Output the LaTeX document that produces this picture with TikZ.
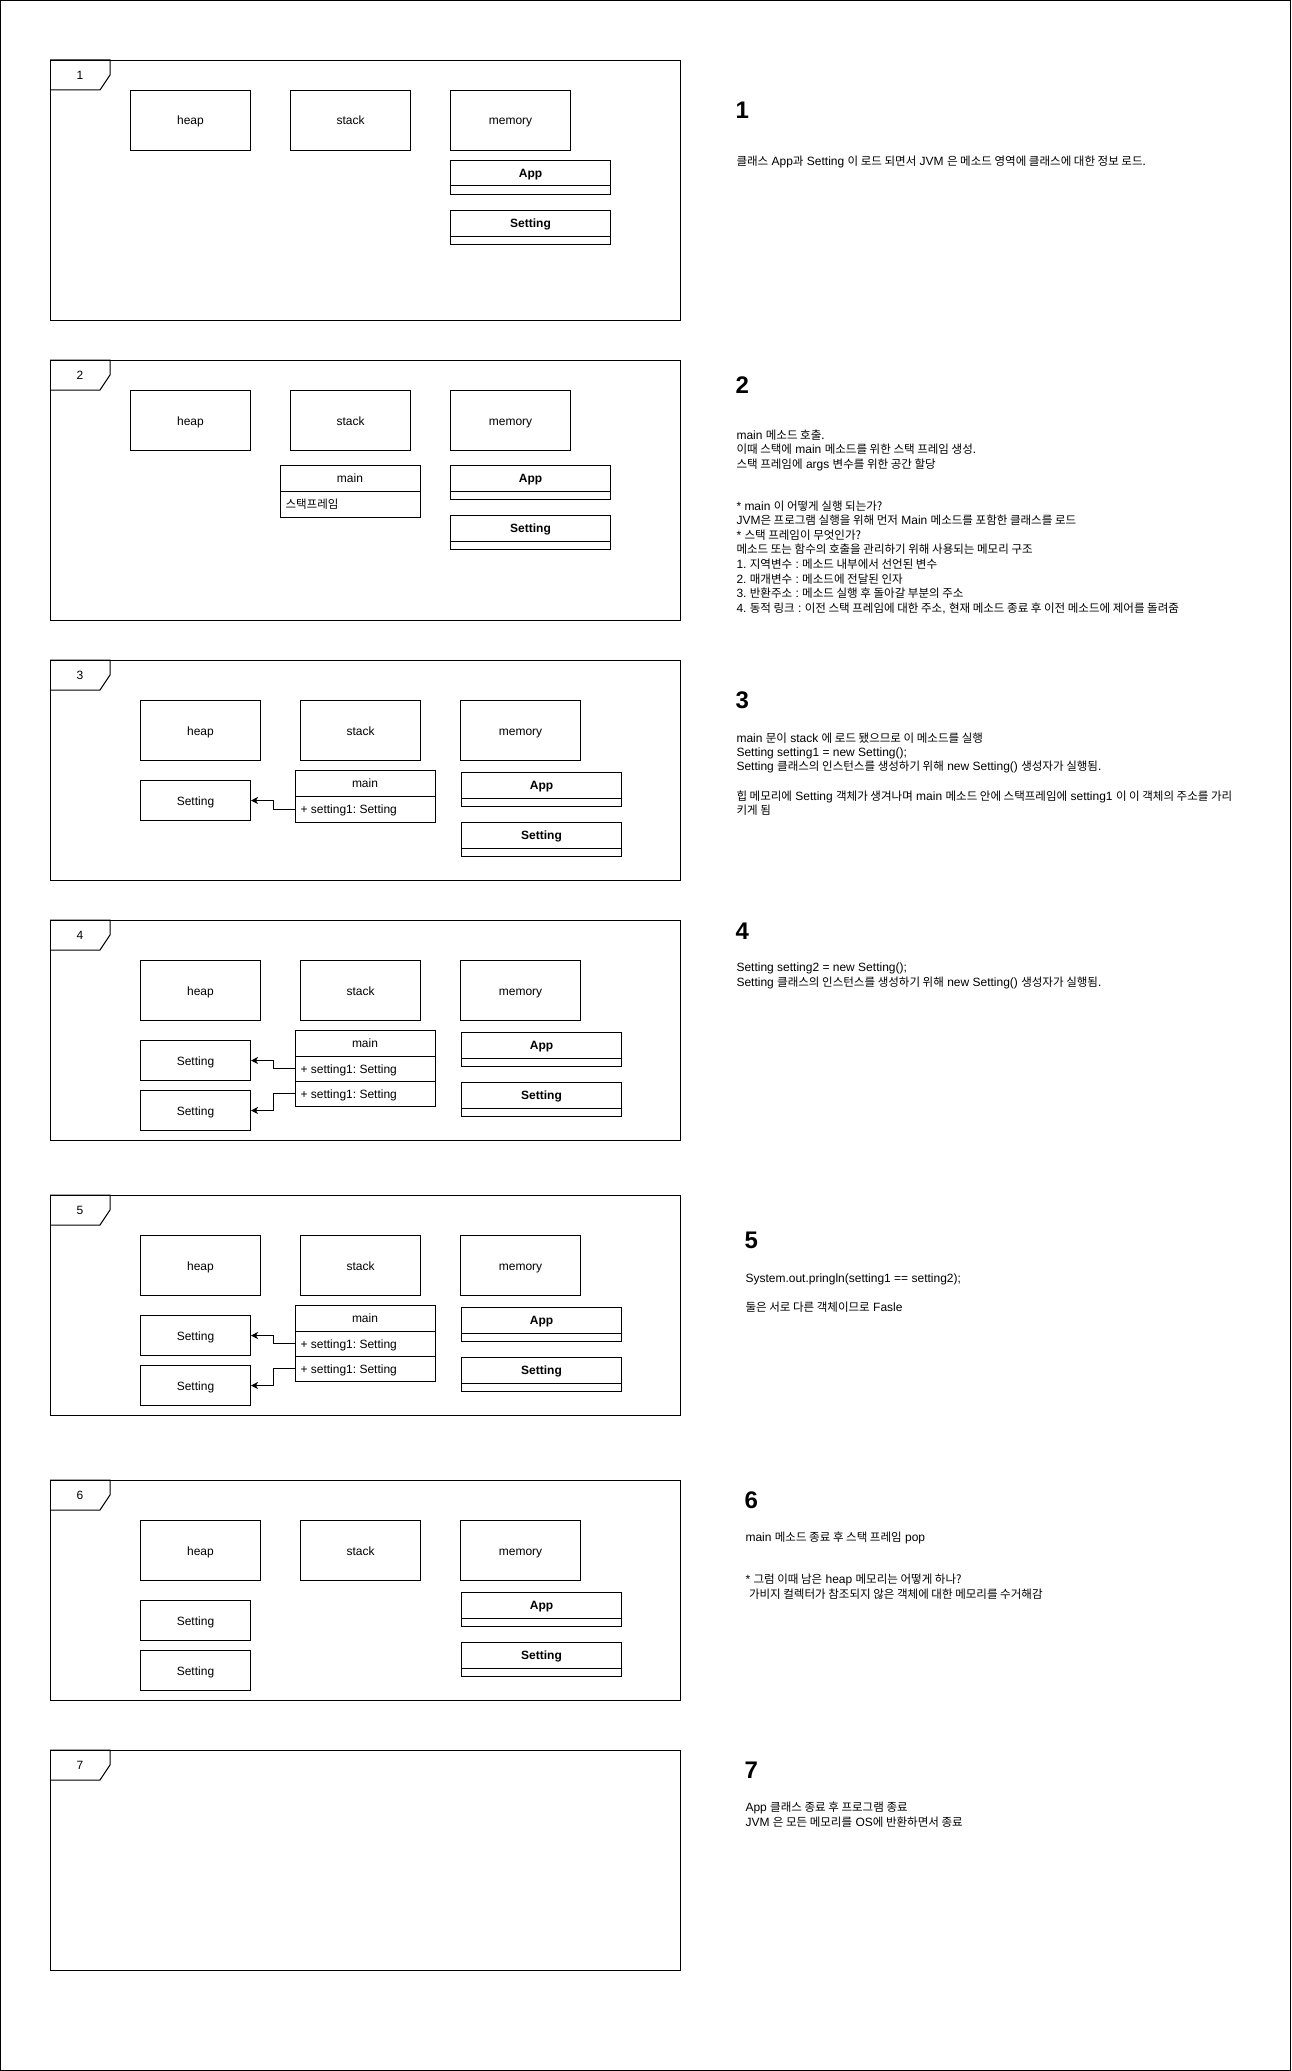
\documentclass[tikz,border=0pt]{standalone}
\usepackage{fontspec}
\setmainfont{Liberation Sans}
\newfontfamily\krfont{Noto Sans CJK KR}[Scale=0.96]
\usetikzlibrary{calc,arrows.meta}

% Hangul runs are set in the CJK family
\newcommand{\hg}[1]{{\krfont #1}}

\tikzset{
  base12/.style={font=\fontsize{12}{14}\selectfont\frenchspacing},
  fixline/.style={text height=9.4pt, text depth=0.4pt},
  areabox/.style={draw, base12, fixline, minimum width=120pt, minimum height=60pt, anchor=north west, inner sep=0pt},
  objbox/.style={draw, base12, fixline, minimum width=110pt, minimum height=40pt, anchor=north west, inner sep=0pt},
  clsbox/.style={draw, minimum width=160pt, minimum height=34pt, anchor=north west, inner sep=0pt},
  clslabel/.style={font=\fontsize{12}{14}\selectfont\bfseries, fixline, inner sep=0pt},
  sfhead/.style={draw, base12, fixline, minimum width=140pt, minimum height=26pt, anchor=north west, inner sep=0pt, outer sep=0pt},
  sfrow/.style={draw, minimum width=140pt, minimum height=#1, anchor=north west, inner sep=0pt, outer sep=0pt},
  sfrow/.default=26pt,
  rowtext/.style={base12, fixline, anchor=west, inner sep=0pt},
  framebox/.style={draw, minimum width=630pt, minimum height=#1, anchor=north west, inner sep=0pt},
  tablabel/.style={base12, fixline, inner sep=0pt},
  heading/.style={font=\fontsize{24}{28}\selectfont\bfseries, anchor=base west, inner sep=0pt},
  body/.style={base12, anchor=base west, inner sep=0pt},
  refarrow/.style={-{Stealth[length=7pt,width=7pt,inset=2pt]}},
}

% UML frame with its name tab
\newcommand{\umlframe}[4]{% name, top, height, tab label
  \node[framebox=#3] (#1) at (50,#2) {};
  \draw (#1.north west) -| ($(#1.north west)+(60,15)$) -- ($(#1.north west)+(50,30)$) -- ($(#1.north west)+(0,30)$);
  \node[tablabel] (#1-tab) at ($(#1.north west)+(30,15)$) {#4};
}

% class box with bold header and empty compartment
\newcommand{\umlclass}[4]{% name, x, y, label
  \node[clsbox] (#1) at (#2,#3) {};
  \draw ($(#1.north west)+(0,26)$) -- ($(#1.north east)+(0,26)$);
  \node[clslabel] (#1-t) at ($(#1.north)+(0,13)$) {#4};
}

% heap / stack / memory area boxes
\newcommand{\memareas}[3]{% prefix, x, y
  \node[areabox] (#1heap) at (#2,#3) {heap};
  \node[areabox] (#1stack) at ($(#2,#3)+(160,0)$) {stack};
  \node[areabox] (#1mem) at ($(#2,#3)+(320,0)$) {memory};
}

\newcommand{\putline}[4]{\node[body] (#1) at (#2,#3) {#4};}

\begin{document}
\frenchspacing
\begin{tikzpicture}[x=1pt, y=-1pt, line width=1pt]
\useasboundingbox (0,0) rectangle (1291,2071);
\draw (0.5,0.5) rectangle (1290.5,2070.5);

% ---------- step 1 ----------
\umlframe{f1}{60}{260pt}{1}
\memareas{a}{130}{90}
\umlclass{c1app}{450}{160}{App}
\umlclass{c1set}{450}{210}{Setting}

% ---------- step 2 ----------
\umlframe{f2}{360}{260pt}{2}
\memareas{b}{130}{390}
\node[sfhead] (m2h) at (280,465) {main};
\node[sfrow] (m2r1) at (m2h.south west) {};
\node[rowtext] (m2r1t) at ($(m2r1.west)+(5,0)$) {\hg{스택프레임}};
\umlclass{c2app}{450}{465}{App}
\umlclass{c2set}{450}{515}{Setting}

% ---------- step 3 ----------
\umlframe{f3}{660}{220pt}{3}
\memareas{c}{140}{700}
\node[sfhead] (m3h) at (295,770) {main};
\node[sfrow] (m3r1) at (m3h.south west) {};
\node[rowtext] (m3r1t) at ($(m3r1.west)+(5,0)$) {+ setting1: Setting};
\node[objbox] (o3a) at (140,780) {Setting};
\draw[refarrow] (m3r1.west) -- ++(-22,0) |- (o3a.east);
\umlclass{c3app}{461}{772}{App}
\umlclass{c3set}{461}{822}{Setting}

% ---------- step 4 ----------
\umlframe{f4}{920}{220pt}{4}
\memareas{d}{140}{960}
\node[sfhead] (m4h) at (295,1030) {main};
\node[sfrow=25pt] (m4r1) at (m4h.south west) {};
\node[sfrow=25pt] (m4r2) at (m4r1.south west) {};
\node[rowtext] (m4r1t) at ($(m4r1.west)+(5,0)$) {+ setting1: Setting};
\node[rowtext] (m4r2t) at ($(m4r2.west)+(5,0)$) {+ setting1: Setting};
\node[objbox] (o4a) at (140,1040) {Setting};
\node[objbox] (o4b) at (140,1090) {Setting};
\draw[refarrow] (m4r1.west) -- ++(-22,0) |- (o4a.east);
\draw[refarrow] (m4r2.west) -- ++(-22,0) |- (o4b.east);
\umlclass{c4app}{461}{1032}{App}
\umlclass{c4set}{461}{1082}{Setting}

% ---------- step 5 ----------
\umlframe{f5}{1195}{220pt}{5}
\memareas{e}{140}{1235}
\node[sfhead] (m5h) at (295,1305) {main};
\node[sfrow=25pt] (m5r1) at (m5h.south west) {};
\node[sfrow=25pt] (m5r2) at (m5r1.south west) {};
\node[rowtext] (m5r1t) at ($(m5r1.west)+(5,0)$) {+ setting1: Setting};
\node[rowtext] (m5r2t) at ($(m5r2.west)+(5,0)$) {+ setting1: Setting};
\node[objbox] (o5a) at (140,1315) {Setting};
\node[objbox] (o5b) at (140,1365) {Setting};
\draw[refarrow] (m5r1.west) -- ++(-22,0) |- (o5a.east);
\draw[refarrow] (m5r2.west) -- ++(-22,0) |- (o5b.east);
\umlclass{c5app}{461}{1307}{App}
\umlclass{c5set}{461}{1357}{Setting}

% ---------- step 6 ----------
\umlframe{f6}{1480}{220pt}{6}
\memareas{g}{140}{1520}
\node[objbox] (o6a) at (140,1600) {Setting};
\node[objbox] (o6b) at (140,1650) {Setting};
\umlclass{c6app}{461}{1592}{App}
\umlclass{c6set}{461}{1642}{Setting}

% ---------- step 7 ----------
\umlframe{f7}{1750}{220pt}{7}

% ---------- notes ----------
\node[heading] (h1) at (735,118.6) {1};
\putline{t1a}{736}{166}{\hg{클래스} App\hg{과} Setting \hg{이 로드 되면서} JVM \hg{은 메소드 영역에 클래스에 대한 정보 로드.}}

\node[heading] (h2) at (735,393.3) {2};
\putline{t2a}{736}{439.3}{main \hg{메소드 호출.}}
\putline{t2b}{736}{453.8}{\hg{이때 스택에} main \hg{메소드를 위한 스택 프레임 생성.}}
\putline{t2c}{736}{468.3}{\hg{스택 프레임에} args \hg{변수를 위한 공간 할당}}
\putline{t2d}{736}{510}{* main \hg{이 어떻게 실행 되는가?}}
\putline{t2e}{736}{524.65}{JVM\hg{은 프로그램 실행을 위해 먼저} Main \hg{메소드를 포함한 클래스를 로드}}
\putline{t2f}{736}{539.3}{* \hg{스택 프레임이 무엇인가?}}
\putline{t2g}{736}{553.95}{\hg{메소드 또는 함수의 호출을 관리하기 위해 사용되는 메모리 구조}}
\putline{t2h}{736}{568.6}{1. \hg{지역변수} : \hg{메소드 내부에서 선언된 변수}}
\putline{t2i}{736}{583.25}{2. \hg{매개변수} : \hg{메소드에 전달된 인자}}
\putline{t2j}{736}{597.9}{3. \hg{반환주소} : \hg{메소드 실행 후 돌아갈 부분의 주소}}
\putline{t2k}{736}{612.55}{4. \hg{동적 링크} : \hg{이전 스택 프레임에 대한 주소}, \hg{현재 메소드 종료 후 이전 메소드에 제어를 돌려줌}}

\node[heading] (h3) at (735,708.8) {3};
\putline{t3a}{736}{742.1}{main \hg{문이} stack \hg{에 로드 됐으므로 이 메소드를 실행}}
\putline{t3b}{736}{756.5}{Setting setting1 = new Setting();}
\putline{t3c}{736}{770.9}{Setting \hg{클래스의 인스턴스를 생성하기 위해} new Setting() \hg{생성자가 실행됨.}}
\putline{t3d}{736}{800}{\hg{힙 메모리에} Setting \hg{객체가 생겨나며} main \hg{메소드 안에 스택프레임에} setting1 \hg{이 이 객체의 주소를 가리}}
\putline{t3e}{736}{814.6}{\hg{키게 됨}}

\node[heading] (h4) at (735,939.1) {4};
\putline{t4a}{736}{971.5}{Setting setting2 = new Setting();}
\putline{t4b}{736}{986}{Setting \hg{클래스의 인스턴스를 생성하기 위해} new Setting() \hg{생성자가 실행됨.}}

\node[heading] (h5) at (744,1248.3) {5};
\putline{t5a}{745}{1282.7}{System.out.pringln(setting1 == setting2);}
\putline{t5b}{745}{1311.3}{\hg{둘은 서로 다른 객체이므로} Fasle}

\node[heading] (h6) at (744,1508.6) {6};
\putline{t6a}{745}{1541.8}{main \hg{메소드 종료 후 스택 프레임} pop}
\putline{t6b}{745}{1583.8}{* \hg{그럼 이때 남은} heap \hg{메모리는 어떻게 하나?}}
\putline{t6c}{748.5}{1598.5}{\hg{가비지 컬렉터가 참조되지 않은 객체에 대한 메모리를 수거해감}}

\node[heading] (h7) at (744,1778.3) {7};
\putline{t7a}{745}{1811.3}{App \hg{클래스 종료 후 프로그램 종료}}
\putline{t7b}{745}{1826}{JVM \hg{은 모든 메모리를} OS\hg{에 반환하면서 종료}}
\end{tikzpicture}
\end{document}
